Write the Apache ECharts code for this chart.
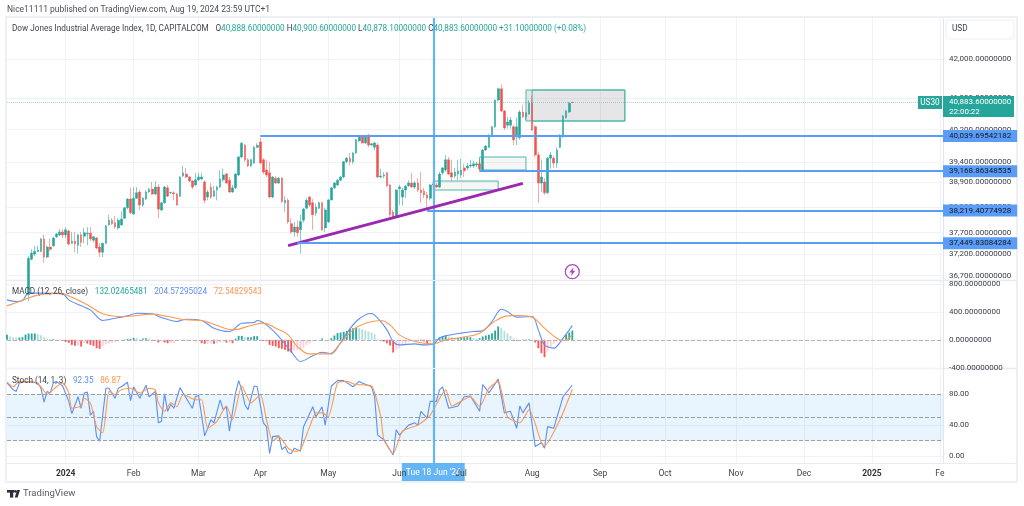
<!DOCTYPE html>
<html>
<head>
<meta charset="utf-8">
<style>html,body{margin:0;padding:0;background:#fff}#c{width:1024px;height:506px}</style>
<script src="https://cdn.jsdelivr.net/npm/echarts@6/dist/echarts.min.js"></script>
</head>
<body>
<div id="c"></div>
<script>
// ---------- time axis ----------
const barCount = 304;
const firstCandleBar = 7;
const monthBars = [19,41,62,82,104,127,147,170,192,213,236,258,280,302];
const monthLabels = ['2024','Feb','Mar','Apr','May','Jun','Jul','Aug','Sep','Oct','Nov','Dec','2025','Fe'];
const crosshairBar = 138;
const crosshairLabel = "Tue 18 Jun '24";

// ---------- price ticks (log price scale) ----------
const priceTicks = [36700,37200,37700,38300,38900,39400,40200,41000,42000];
const macdTicks = [-400,0,400,800];
const stochTicks = [0,40,80];
const lastPrice = 40883.6;

// horizontal levels: [start bar, price]
const levels = [[82,40039.69542182],[153,39168.86348535],[136,38219.40774928],[94,37449.83084284]];
// trend line: [bar, price]
const trendLine = [[91,37393],[167,38875]];
// boxes: [bar from, price top, bar to, price bottom]
const boxes = [[168,41204,200,40415],[170,41204,200,40415],[153,39518,168,39199],[138,38931,159,38713]];
const alertMark = [183,36791];

// candles: [open, close, low, high]
const candleRows = [
[36270,37100,36120,37150],[37080,37220,37050,37310],[37200,37260,37150,37390],[37260,37290,37240,37390],
[37260,37550,37240,37570],[37550,37130,37000,37650],[37130,37360,37100,37400],[37360,37310,37260,37550],
[37390,37570,37360,37600],[37600,37665,37570,37695],[37645,37715,37615,37785],[37715,37645,37570,37785],
[37645,37765,37570,37830],[37735,37430,37400,37765],[37450,37500,37430,37715],[37500,37430,37240,37715],
[37400,37645,37210,37665],[37645,37470,37360,37715],[37615,37695,37450,37810],[37665,37685,37400,37830],
[37685,37550,37500,37830],[37520,37600,37470,37615],[37570,37340,37310,37600],[37360,37240,37130,37450],
[37240,37450,37130,37460],[37450,37860,37430,37880],[37880,37990,37860,38120],[37990,37910,37880,38040],
[37930,37830,37785,38090],[37810,37990,37765,38040],[37880,38020,37860,38205],[38040,38285,38020,38305],
[38285,38495,38255,38515],[38495,38170,38140,38765],[38140,38515,38120,38785],[38515,38645,38495,38785],
[38665,38355,38235,38715],[38355,38515,38305,38545],[38495,38665,38470,38715],[38665,38735,38645,38765],
[38735,38615,38595,38910],[38615,38785,38595,38930],[38785,38255,38040,38860],[38235,38405,38205,38425],
[38405,38785,38385,38815],[38765,38565,38545,38835],[38645,38655,38615,38665],[38645,38625,38465,38685],
[38615,38355,38335,38645],[38565,39030,38545,39050],[39050,39130,39030,39300],[39100,39030,39000,39250],
[39030,38930,38910,39050],[38930,38785,38735,38950],[38835,38960,38815,39130],[38960,39030,38930,39130],
[38980,39030,38950,39130],[38910,38465,38385,38950],[38545,38665,38465,38715],[38785,38545,38495,38880],
[38565,38695,38545,38815],[38715,38785,38465,38815],[38785,38980,38765,39200],[38960,39080,38910,39230],
[39100,38880,38865,39130],[38950,38665,38645,39030],[38665,38765,38645,38835],[38765,39100,38735,39130],
[39080,39520,39050,39540],[39520,39860,39490,39890],[39810,39450,39400,39840],[39450,39300,39270,39490],
[39300,39450,39270,39470],[39370,39760,39350,39790],[39760,39810,39740,39860],[39890,39370,39350,39990],
[39450,39150,39100,39490],[39200,39080,39030,39450],[39130,38545,38515,39400],[38545,39030,38515,39050],
[39000,38880,38865,39050],[38880,39000,38865,39030],[39000,38435,38405,39030],[38405,38465,38185,38565],
[38465,37950,37910,38515],[37910,37715,37665,38040],[37715,37830,37600,37950],[37830,37695,37600,37990],
[37765,37960,37210,38120],[37990,38255,37930,38285],[38275,38465,38255,38515],[38545,38355,38305,38565],
[38405,38120,37765,38495],[38160,38305,38090,38385],[38275,38405,38255,38435],[38405,37765,37735,38435],
[37810,38235,37715,38285],[37950,38475,37930,38495],[38475,38765,38465,38785],[38765,38880,38735,38910],
[38835,38950,38815,38980],[38950,39030,38930,39050],[39030,39400,39000,39420],[39400,39490,39370,39520],
[39490,39400,39320,39620],[39400,39620,39350,39640],[39620,39945,39590,39965],[39915,40015,39895,40065],
[40015,39865,39845,40065],[39865,40015,39845,40035],[40065,39815,39760,40085],[39815,39845,39795,39865],
[39760,39865,39690,39895],[39815,39030,39000,39865],[39030,39050,39000,39230],[39050,39080,39000,39150],
[39130,38815,38785,39150],[38835,38120,38070,38860],[38185,38070,38040,38235],[38070,38715,38040,38735],
[38745,38785,38355,38835],[38545,38715,38335,38765],[38715,38805,38515,38835],[38815,38880,38785,38950],
[38880,38785,38765,39130],[38785,38880,38735,38930],[38880,38715,38665,39000],[38715,38645,38405,39150],
[38685,38595,38515,38765],[38595,38515,38285,38665],[38515,38835,38465,38860],[38835,38860,38815,38950],
[38835,38785,38765,38880],[38785,39100,38765,39150],[39130,39250,39080,39270],[39200,39450,39150,39570],
[39450,39100,39080,39520],[39130,39030,38930,39450],[39050,39150,39000,39250],[39100,39180,38950,39450],
[39080,39200,39000,39470],[39250,39180,39030,39350],[39250,39300,39200,39370],[39300,39320,39250,39450],
[39300,39350,39250,39420],[39320,39350,39270,39400],[39350,39230,39150,39450],[39200,39690,39180,39720],
[39690,39790,39670,39810],[39760,40065,39740,40085],[40035,40270,40015,40290],[40270,40945,40240,40965],
[40945,41235,40915,41265],[41235,40670,40640,41355],[40670,40240,40190,40690],[40310,40390,40220,40520],
[40310,40440,40220,40520],[40270,39945,39815,40310],[40015,40270,39815,40500],[39995,40640,39945,40690],
[40640,40520,40490,40825],[40520,40620,40440,40640],[40590,40865,40570,40945],[40865,40190,40170,41065],
[40270,39570,39520,40310],[39570,38880,38405,39640],[38880,39030,38665,39450],[38910,38645,38595,39000],
[38645,39490,38615,39520],[39490,39570,39230,39640],[39490,39370,39250,39540],[39370,39690,39250,39760],
[39760,40065,39740,40085],[40015,40540,39995,40570],[40500,40670,40470,40690],[40640,40865,40620,40895],
[40888.6,40883.6,40878.1,40900.6]
];

// MACD histogram by bar
const macdHist = [72,48,38,33,33,38,76,91,91,91,81,67,38,19,10,10,5,-5,-14,-29,-43,-72,-86,-86,-96,-43,-53,-72,-86,-119,-129,-91,-67,-53,-43,-29,-14,-5,5,14,14,29,24,10,19,24,19,10,-10,-38,-19,-38,-48,-48,-48,-14,-5,5,-5,-14,-14,-19,-14,-48,-57,-57,-53,-57,-48,-38,-24,-38,-38,-48,19,57,57,38,38,38,53,53,0,-14,-19,-72,-86,-96,-119,-129,-143,-167,-181,-153,-143,-129,-110,-72,-48,-24,-14,0,19,0,-5,24,62,96,105,115,129,158,167,177,167,153,134,119,105,81,10,-5,-24,-48,-81,-181,-143,-119,-86,-67,-29,-19,-14,-10,-14,-24,-48,-29,-14,10,38,48,62,48,38,24,24,33,38,38,38,29,19,24,48,62,72,96,134,191,167,129,96,57,19,-14,-5,5,-5,10,-5,-38,-119,-191,-248,-167,-119,-57,-29,-10,5,72,105,132];
// MACD vertices: [bar, value]
const macdLine = [[0,573],[3,549],[5,564],[7,669],[11,669],[18,659],[20,573],[24,487],[27,430],[31,277],[35,310],[39,344],[42,382],[47,373],[50,320],[55,263],[58,296],[63,277],[67,167],[72,119],[76,239],[80,248],[81,277],[84,215],[88,48],[92,-167],[95,-310],[99,-229],[102,-177],[105,-201],[108,-38],[110,96],[113,263],[116,358],[118,377],[120,310],[123,143],[125,-24],[127,-72],[132,-57],[135,-72],[138,-62],[140,24],[142,57],[147,96],[151,119],[154,129],[157,263],[160,439],[162,406],[165,325],[170,334],[172,143],[174,-72],[177,-119],[180,24],[183,204.57]];
const macdSignal = [[0,487],[4,549],[9,630],[13,659],[17,669],[21,611],[26,502],[31,373],[36,334],[41,344],[47,368],[52,334],[58,287],[63,277],[68,205],[73,143],[79,205],[83,239],[87,167],[91,72],[94,-96],[98,-201],[104,-201],[108,-48],[112,143],[116,239],[121,277],[124,215],[127,72],[132,-24],[138,-57],[142,0],[147,33],[153,96],[157,239],[162,344],[166,349],[170,325],[174,167],[178,24],[180,-10],[183,72.55]];
// Stochastic vertices: [bar, value]
const stochK = [[0,95],[2,86],[3,84],[4,95],[6,97],[10,95],[11,88],[12,70],[13,84],[14,82],[15,95],[16,97],[18,91],[20,71],[21,55],[23,77],[24,62],[25,82],[26,83],[27,53],[28,58],[29,25],[30,19],[32,88],[33,88],[35,75],[36,88],[37,90],[39,96],[40,72],[41,90],[43,75],[45,92],[46,77],[48,84],[49,43],[50,45],[51,81],[52,58],[53,67],[54,62],[56,89],[57,82],[60,62],[61,77],[62,79],[64,26],[66,47],[67,43],[69,73],[70,60],[71,64],[72,32],[74,82],[75,98],[76,86],[77,67],[78,60],[80,91],[81,90],[83,43],[84,38],[85,3],[86,25],[88,26],[89,8],[90,12],[91,4],[92,3],[93,10],[95,6],[96,38],[99,64],[100,51],[102,64],[103,40],[105,91],[107,98],[109,98],[112,90],[114,97],[115,95],[118,90],[119,77],[120,27],[122,21],[125,1],[126,34],[127,27],[130,40],[132,43],[133,40],[134,58],[136,49],[137,71],[139,71],[140,86],[141,90],[143,62],[146,65],[148,77],[150,78],[153,58],[154,93],[156,82],[159,100],[161,56],[163,58],[165,36],[166,65],[167,56],[169,69],[171,12],[173,17],[174,10],[175,38],[177,36],[180,77],[183,92.35]];
const stochD = [[0,96],[2,90],[4,97],[9,96],[11,90],[13,80],[16,90],[18,95],[20,82],[21,62],[24,65],[25,75],[27,69],[29,38],[31,30],[32,56],[33,84],[35,80],[37,86],[40,88],[43,82],[46,88],[48,86],[49,69],[51,58],[53,69],[55,64],[57,80],[61,73],[63,73],[65,36],[68,45],[71,65],[73,47],[76,91],[79,69],[82,80],[84,47],[86,19],[88,25],[91,10],[93,6],[95,8],[98,38],[100,56],[102,56],[104,51],[107,95],[110,97],[113,93],[118,91],[121,51],[122,21],[125,3],[128,32],[133,40],[137,53],[142,86],[144,65],[150,77],[153,64],[156,88],[159,97],[162,51],[166,43],[169,60],[173,17],[174,13],[179,47],[183,86.87]];
const stochLevels = [80,50,20];

// ---------- texts ----------
const publishedLine = 'Nice11111 published on TradingView.com, Aug 19, 2024 23:59 UTC+1';
const symbolName = 'Dow Jones Industrial Average Index, 1D, CAPITALCOM';
const ohlcText = ['O','40,888.60000000',' H','40,900.60000000',' L','40,878.10000000',' C','40,883.60000000',' +31.10000000 (+0.08%)'];
const macdValues = ['132.02465481','204.57295024','72.54829543'];
const stochValues = ['92.35','86.87'];

const UP='#26a69a', DOWN='#ef5350', BLUE='#5b9cf6', CROSS='#64b5f6', ORANGE='#ff9850', LINEBLUE='#5d8ff0';
const FONT='Roboto, "Liberation Sans", sans-serif';
const GRID='#f1f2f5';
const fmt8 = v => v.toLocaleString('en-US',{minimumFractionDigits:8,maximumFractionDigits:8});
const categories = Array.from({length:barCount},(_,i)=>String(i));
const isMonth = i => monthBars.indexOf(i) >= 0;
const pad = (rows,n) => new Array(n).fill('-').concat(rows);

function xAxis(gridIndex){
  return {
    type:'category', gridIndex, data:categories, boundaryGap:false,
    axisLine:{show:false}, axisTick:{show:false}, axisLabel:{show:false},
    splitLine:{show:true, interval:(i)=>isMonth(i), lineStyle:{color:GRID,width:1}}
  };
}
const monthAxis = {
  type:'category', gridIndex:2, position:'bottom', data:categories, boundaryGap:false, z:10,
  axisLine:{show:false}, axisTick:{show:false}, splitLine:{show:false},
  axisLabel:{
    show:true, interval:(i)=>isMonth(i), margin:6, fontSize:8.5, fontFamily:FONT, color:'#444',
    formatter:(v)=>{
      const k=monthBars.indexOf(+v); if(k<0) return '';
      const t=monthLabels[k];
      return /^20/.test(t) ? '{b|'+t+'}' : t;
    },
    rich:{b:{fontWeight:'bold',fontSize:8.5,fontFamily:FONT,color:'#333'}}
  }
};
function yAxis(gridIndex,type,min,max,ticks,fmt){
  return {
    type, gridIndex, position:'right', min, max,
    axisLine:{show:true,lineStyle:{color:'#e3e5ec',width:1}}, axisTick:{show:false,customValues:ticks},
    splitLine:{show:true,lineStyle:{color:GRID,width:1}},
    axisLabel:{customValues:ticks,margin:6,fontSize:8,fontFamily:FONT,color:'#3a3e4a',align:'left',showMinLabel:true,showMaxLabel:true,formatter:fmt}
  };
}
const lineLabel = {show:true,position:'end',distance:0,fontSize:8,fontFamily:FONT,color:'#131722',backgroundColor:BLUE,padding:[2,6,2,6]};

const crossMark = (label)=>({
  xAxis:crosshairBar,
  lineStyle:{color:CROSS,width:2.2,type:'solid'},
  label: label ? {show:true,position:'start',distance:0,formatter:crosshairLabel,fontSize:8.5,fontFamily:FONT,color:'#fff',backgroundColor:CROSS,padding:[5,4,4,4]} : {show:false}
});

const option = {
  animation:false,
  backgroundColor:'#fff',
  textStyle:{fontFamily:FONT},
  grid:[
    {left:7,right:81,top:18,height:262},
    {left:7,right:81,top:281,height:87},
    {left:7,right:81,top:369,height:94}
  ],
  xAxis:[xAxis(0),xAxis(1),xAxis(2),monthAxis],
  yAxis:[
    yAxis(0,'log',36601,43096,priceTicks,(v)=>fmt8(v)),
    yAxis(1,'value',-403,843,macdTicks,(v)=>fmt8(v)),
    yAxis(2,'value',-9.4,113.2,stochTicks,(v)=>v.toFixed(2))
  ],
  graphic:{elements:[
    {type:'rect',silent:true,z:-1,shape:{x:6,y:17,width:1011,height:465},style:{fill:'none',stroke:'#eef0f5',lineWidth:2}},
    {type:'line',silent:true,z:-1,shape:{x1:7,y1:280.5,x2:1017,y2:280.5},style:{stroke:'#e9ebf1',lineWidth:1.5}},
    {type:'line',silent:true,z:-1,shape:{x1:7,y1:368.5,x2:1017,y2:368.5},style:{stroke:'#e9ebf1',lineWidth:1.5}},
    {type:'line',silent:true,z:-1,shape:{x1:7,y1:463.5,x2:1017,y2:463.5},style:{stroke:'#e9ebf1',lineWidth:1}},
    {type:'text',left:7,top:5,style:{text:publishedLine,fontSize:8.5,fontFamily:FONT,fill:'#4a4e59'}},
    {type:'text',left:12,top:23,z:50,style:{
      text:'{n|'+symbolName+'}  {n|'+ohlcText[0]+'}{g|'+ohlcText[1]+'}{n|'+ohlcText[2]+'}{g|'+ohlcText[3]+'}{n|'+ohlcText[4]+'}{g|'+ohlcText[5]+'}{n|'+ohlcText[6]+'}{g|'+ohlcText[7]+ohlcText[8]+'}',
      rich:{n:{fontSize:8.2,fontFamily:FONT,fill:'#3f434e'},g:{fontSize:8.2,fontFamily:FONT,fill:UP}}
    }},
    {type:'text',left:12,top:286,z:50,style:{
      text:'{n|MACD (12, 26, close)}  {g|'+macdValues[0]+'}  {b|'+macdValues[1]+'}  {o|'+macdValues[2]+'}',
      rich:{n:{fontSize:8.2,fontFamily:FONT,fill:'#3f434e'},g:{fontSize:8.2,fontFamily:FONT,fill:UP},b:{fontSize:8.2,fontFamily:FONT,fill:LINEBLUE},o:{fontSize:8.2,fontFamily:FONT,fill:ORANGE}}
    }},
    {type:'text',left:12,top:375,z:50,style:{
      text:'{n|Stoch (14, 1, 3)}  {b|'+stochValues[0]+'}  {o|'+stochValues[1]+'}',
      rich:{n:{fontSize:8.2,fontFamily:FONT,fill:'#3f434e'},b:{fontSize:8.2,fontFamily:FONT,fill:LINEBLUE},o:{fontSize:8.2,fontFamily:FONT,fill:ORANGE}}
    }},
    {type:'rect',shape:{x:946,y:20,width:68,height:19,r:3},style:{fill:'#fff',stroke:'#eceef3',lineWidth:1}},
    {type:'text',left:952,top:25,z:10,style:{text:'USD',fontSize:8.2,fontFamily:FONT,fill:'#3a3e4a'}},
    {type:'rect',shape:{x:7,y:490,width:7,height:2.6},style:{fill:'#2a2e39'}},
    {type:'rect',shape:{x:10,y:490,width:3.2,height:7.6},style:{fill:'#2a2e39'}},
    {type:'circle',shape:{cx:15.4,cy:491.4,r:1.4},style:{fill:'#2a2e39'}},
    {type:'polygon',shape:{points:[[17,490],[20,490],[17.6,497.6],[14.8,497.6]]},style:{fill:'#2a2e39'}},
    {type:'text',left:23,top:489,style:{text:'TradingView',fontSize:9.5,fontFamily:FONT,fill:'#555963'}}
  ]},
  series:[
    {
      type:'candlestick', xAxisIndex:0, yAxisIndex:0, barWidth:2.2,
      data:pad(candleRows,firstCandleBar),
      itemStyle:{color:UP,color0:DOWN,borderColor:'rgba(38,166,154,.55)',borderColor0:'rgba(239,83,80,.5)',borderWidth:1},
      markArea:{
        silent:true,
        data:boxes.map((b,k)=>[
          {coord:[b[0],b[1]],itemStyle:{color:k===1?'rgba(0,0,0,0)':(k<1?'rgba(120,123,134,.19)':'rgba(120,123,134,.07)'),borderColor:'#4fb6a9',borderWidth:1}},
          {coord:[b[2],b[3]]}
        ])
      },
      markLine:{
        silent:true,symbol:'none',animation:false,
        data:[
          crossMark(false),
          [{coord:[0,lastPrice],lineStyle:{color:'rgba(38,166,154,.4)',width:1,type:'dotted'},label:{show:false}},{coord:[barCount-1,lastPrice]}],
          [{coord:trendLine[0],lineStyle:{color:'#9c27b0',width:3,type:'solid'},label:{show:false}},{coord:trendLine[1]}]
        ].concat(levels.map(l=>[
          {coord:[l[0],l[1]],lineStyle:{color:BLUE,width:2.2,type:'solid'},label:Object.assign({},lineLabel,{formatter:fmt8(l[1])})},
          {coord:[barCount-1,l[1]]}
        ]))
      },
      markPoint:{
        silent:true,animation:false,
        data:[
          {coord:[barCount-1,lastPrice],symbol:'rect',symbolSize:[24,13],symbolOffset:[-13,0],itemStyle:{color:UP},
           label:{show:true,position:'inside',formatter:'US30',fontSize:8.2,fontFamily:FONT,color:'#fff'}},
          {coord:[barCount-1,lastPrice],symbol:'rect',symbolSize:[71,21],symbolOffset:[35.5,4],itemStyle:{color:UP},
           label:{show:true,position:'inside',formatter:'{a|'+fmt8(lastPrice)+'}\n{a|22:00:22}',
             rich:{a:{fontSize:8,fontFamily:FONT,color:'#fff',width:59,align:'left',lineHeight:10}}}},
          {coord:alertMark,symbol:'circle',symbolSize:14,itemStyle:{color:'#fff',borderColor:'#ab47bc',borderWidth:1.2},label:{show:false}},
          {coord:alertMark,symbol:'path://M6 0L1 6H4L3 10L8 4H5Z',symbolSize:[6,9],itemStyle:{color:'#ab47bc'},label:{show:false}}
        ]
      }
    },
    {
      type:'bar', xAxisIndex:1, yAxisIndex:1, barWidth:1.8, silent:true,
      data:macdHist.map((h,i)=>{
        const p=i?macdHist[i-1]:h;
        const c=h>=0?(h>=p?'#26a69a':'#b2dfdb'):(h<p?'#ff5252':'#ffcdd2');
        return {value:h,itemStyle:{color:c}};
      }),
      markLine:{
        silent:true,symbol:'none',animation:false,
        data:[
          crossMark(false),
          {yAxis:0,lineStyle:{color:'#b2b5be',width:1,type:'dashed'},label:{show:false}}
        ]
      }
    },
    {type:'line',xAxisIndex:1,yAxisIndex:1,data:macdLine,showSymbol:false,silent:true,smooth:0.3,lineStyle:{color:LINEBLUE,width:1.1},z:3},
    {type:'line',xAxisIndex:1,yAxisIndex:1,data:macdSignal,showSymbol:false,silent:true,smooth:0.4,lineStyle:{color:ORANGE,width:1.1},z:4},
    {type:'line',xAxisIndex:2,yAxisIndex:2,data:stochK,showSymbol:false,silent:true,lineStyle:{color:LINEBLUE,width:1.1},z:3,
      markArea:{silent:true,data:[[{yAxis:stochLevels[0],itemStyle:{color:'rgba(33,150,243,.1)'}},{yAxis:stochLevels[2]}]]},
      markLine:{
        silent:true,symbol:'none',animation:false,
        data:stochLevels.map(v=>({yAxis:v,lineStyle:{color:'#9a9ea8',width:1,type:'dashed'},label:{show:false}})).concat([crossMark(true)])
      }
    },
    {type:'line',xAxisIndex:2,yAxisIndex:2,data:stochD,showSymbol:false,silent:true,smooth:0.2,lineStyle:{color:ORANGE,width:1.1},z:4}
  ]
};
const chart = echarts.init(document.getElementById('c'),null,{renderer:'canvas'});
chart.setOption(option);
</script>
</body>
</html>
